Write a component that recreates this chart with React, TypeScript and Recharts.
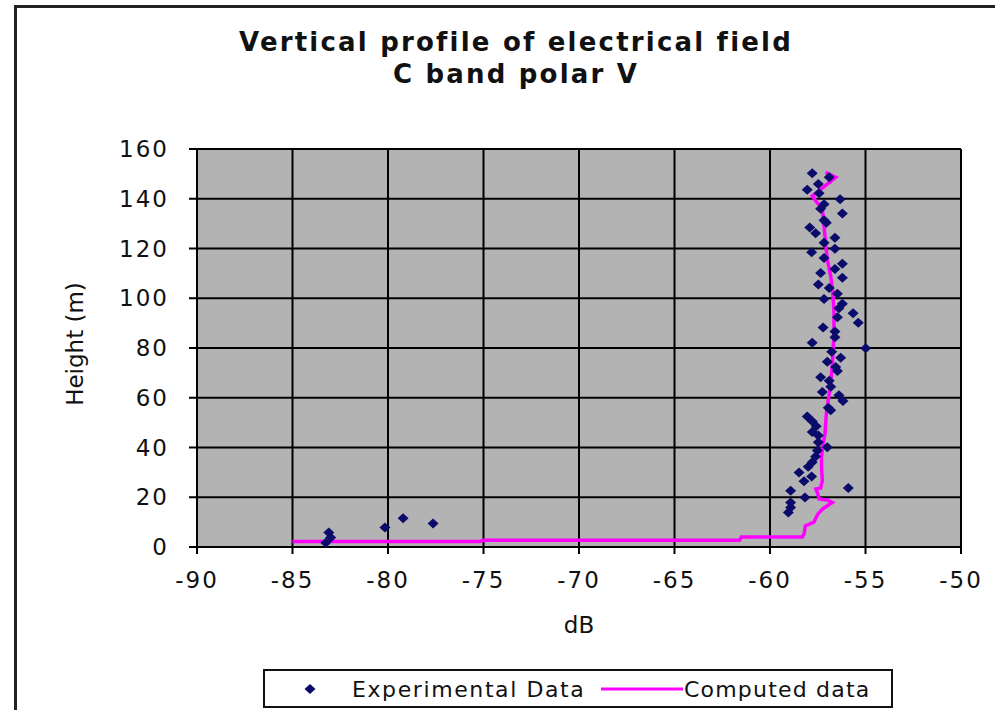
import React from "react";
import { CartesianGrid, Label, Scatter, ScatterChart, XAxis, YAxis } from "recharts";

// experimental measurements (dB, height m)
const experimentalDb = [
  -83.1, -83.0, -83.26, -80.16, -79.21, -77.64,
  -59.04, -58.92, -58.92, -58.17, -58.92, -55.9, -58.22, -57.82, -58.48, -58.0,
  -57.79, -57.61, -57.52, -57.0, -57.47, -57.47, -57.79, -57.58, -57.79, -58.05,
  -56.82, -56.95, -56.18, -56.39, -57.26, -56.82, -56.9, -57.35, -56.47, -56.56,
  -57.0, -56.3, -56.77, -54.99, -57.79, -56.6, -56.6, -57.22, -55.38, -56.47,
  -55.65, -56.39, -56.21, -57.17, -56.47, -56.9, -57.47, -56.21, -57.35, -56.6,
  -56.21, -57.17, -57.82, -56.6, -57.17, -56.6, -57.61, -57.92, -57.05, -57.17,
  -56.21, -57.35, -57.17, -56.33, -57.43, -58.05, -57.47, -56.9, -57.79,
];
const experimentalHeight = [
  5.8, 3.8, 1.7, 7.8, 11.6, 9.4,
  13.9, 15.9, 17.9, 19.9, 22.6, 23.7, 26.4, 28.3, 30, 32.3,
  34.1, 36.4, 38.8, 40.1, 42.1, 44.8, 46.2, 48.5, 50.6, 52.5,
  55, 56, 58.7, 61, 62.3, 64.4, 66.8, 68.2, 70.8, 72.4,
  74.5, 76.1, 78.5, 79.9, 82.1, 84.3, 86.6, 88.2, 90.2, 92.4,
  94, 96, 97.8, 99.7, 101.8, 104.1, 105.5, 108.2, 110.2, 111.8,
  113.9, 116.2, 118.5, 119.9, 122.3, 124.3, 126.1, 128.4, 130.4, 131.4,
  134.1, 136, 137.8, 139.8, 142.2, 143.6, 145.9, 148.6, 150.3,
];

// computed profile, in drawing order
const computedDb = [
  -85, -75.2, -75, -61.6, -61.5, -58.3, -58.2, -58.15, -57.7, -57.5,
  -57.26, -56.74, -57.0, -57.43, -57.52, -57.6, -57.35, -57.26, -57.3, -57.3,
  -57.26, -57.12, -57.05, -56.95, -56.85, -56.75, -56.65, -56.65, -56.73, -56.82,
  -57.0, -57.09, -57.17, -57.26, -57.6, -57.79, -56.56, -57.09,
];
const computedHeight = [
  2.2, 2.2, 2.7, 2.7, 4, 4, 5.8, 8.5, 10, 13.2,
  15.2, 17.9, 18.9, 19.3, 21.9, 23.3, 23.7, 26.7, 32, 36,
  40, 45.5, 53.6, 59, 64, 72, 85, 95, 103.4, 108.8,
  115.6, 122.3, 129, 135.8, 139.1, 141.1, 148.6, 150.6,
];

const xTicks = [-90, -85, -80, -75, -70, -65, -60, -55, -50];
const yTicks = [0, 20, 40, 60, 80, 100, 120, 140, 160];

const experimental = experimentalDb.map((x, i) => ({ x, y: experimentalHeight[i] }));
const computed = computedDb.map((x, i) => ({ x, y: computedHeight[i] }));

const FONT = "'DejaVu Sans', sans-serif";
const MARKER = "#0b0b6b";
const LINE = "#ff00ff";

function Diamond(props: any) {
  const { cx, cy } = props;
  if (cx == null || cy == null) return <g />;
  return <path d={`M${cx},${cy - 5} L${cx + 5.5},${cy} L${cx},${cy + 5} L${cx - 5.5},${cy} Z`} fill={MARKER} />;
}

const tickStyle = { fontSize: 23, fill: "#111", fontFamily: FONT, letterSpacing: 2 };

export default function App() {
  return (
    <div style={{ position: "absolute", left: 0, top: 0, width: 995, height: 710, overflow: "hidden", background: "#fff" }}>
      <div
        style={{
          position: "absolute",
          left: 14,
          top: 5,
          width: 1100,
          height: 800,
          borderLeft: "3px solid #222",
          borderTop: "3px solid #222",
        }}
      />
      <div
        style={{
          position: "absolute",
          left: 0,
          width: 1032,
          top: 26,
          textAlign: "center",
          fontFamily: FONT,
          fontWeight: "bold",
          fontSize: 26,
          lineHeight: "32px",
          color: "#111",
          letterSpacing: 2.2,
        }}
      >
        Vertical profile of electrical field
        <br />
        C band polar V
      </div>
      <div style={{ position: "absolute", left: 0, top: 0 }}>
        <ScatterChart width={995} height={710} margin={{ top: 149, right: 34, bottom: 103, left: 117 }}>
          <CartesianGrid fill="#b3b3b3" fillOpacity={1} stroke="#000" strokeWidth={2} />
          <XAxis
            type="number"
            dataKey="x"
            domain={[-90, -50]}
            ticks={xTicks}
            interval={0}
            height={60}
            tickSize={7}
            tickMargin={18}
            axisLine={{ stroke: "#000", strokeWidth: 2 }}
            tickLine={{ stroke: "#000", strokeWidth: 2 }}
            tick={tickStyle}
          >
            <Label
              content={({ viewBox }: any) => (
                <text
                  x={viewBox.x + viewBox.width / 2}
                  y={viewBox.y + 78}
                  textAnchor="middle"
                  dominantBaseline="central"
                  fontSize={23}
                  fontFamily={FONT}
                  fill="#111"
                >
                  dB
                </text>
              )}
            />
          </XAxis>
          <YAxis
            type="number"
            dataKey="y"
            domain={[0, 160]}
            ticks={yTicks}
            interval={0}
            width={80}
            tickSize={8}
            tickMargin={20}
            axisLine={{ stroke: "#000", strokeWidth: 2 }}
            tickLine={{ stroke: "#000", strokeWidth: 2 }}
            tick={tickStyle}
          >
            <Label
              content={({ viewBox }: any) => {
                const cx = viewBox.x - 42;
                const cy = viewBox.y + viewBox.height / 2 - 4;
                return (
                  <text
                    x={cx}
                    y={cy}
                    textAnchor="middle"
                    dominantBaseline="central"
                    transform={`rotate(-90, ${cx}, ${cy})`}
                    fontSize={23}
                    fontFamily={FONT}
                    fill="#111"
                  >
                    Height (m)
                  </text>
                );
              }}
            />
          </YAxis>
          <Scatter
            name="Computed data"
            data={computed}
            line={{ stroke: LINE, strokeWidth: 3.5 }}
            lineJointType="linear"
            shape={() => <g />}
            isAnimationActive={false}
          />
          <Scatter name="Experimental Data" data={experimental} shape={Diamond} isAnimationActive={false} />
        </ScatterChart>
      </div>
      <div
        style={{
          position: "absolute",
          left: 263,
          top: 669,
          width: 626,
          height: 35,
          border: "2px solid #111",
          background: "#fff",
        }}
      >
        <svg width={626} height={35} style={{ position: "absolute", left: 0, top: 0 }}>
          <path d="M45,13 L50.5,18 L45,23 L39.5,18 Z" fill={MARKER} />
          <text x={87} y={18} dominantBaseline="central" fontSize={22} fontFamily={FONT} fill="#111" letterSpacing={1.6}>
            Experimental Data
          </text>
          <line x1={336} x2={418} y1={18} y2={18} stroke={LINE} strokeWidth={3} />
          <text x={419} y={18} dominantBaseline="central" fontSize={22} fontFamily={FONT} fill="#111" letterSpacing={1.2}>
            Computed data
          </text>
        </svg>
      </div>
    </div>
  );
}
